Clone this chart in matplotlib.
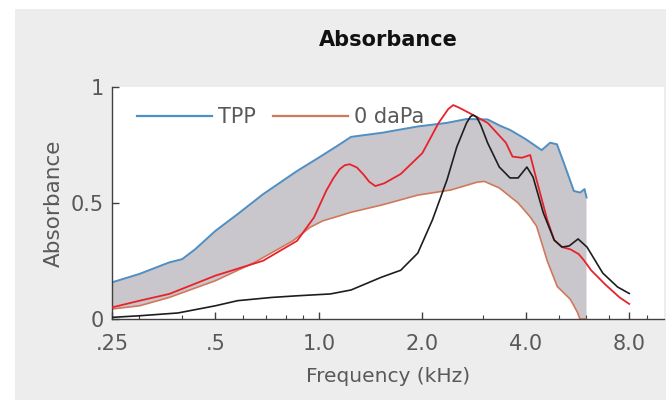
import matplotlib
matplotlib.use("Agg")
import matplotlib.pyplot as plt
from matplotlib.patches import Rectangle
from matplotlib.lines import Line2D
from matplotlib.ticker import FixedLocator, LogLocator, NullLocator
import numpy as np

# Absorbance at tympanometric peak pressure (upper edge of the shaded band)
freq_tpp = [0.25, 0.30, 0.367, 0.40, 0.436, 0.50, 0.58, 0.688, 0.864, 1.0, 1.15,
            1.24, 1.53, 1.94, 2.35, 2.69, 3.1, 3.38, 3.6, 4.0, 4.45, 4.71, 4.93,
            5.22, 5.52, 5.76, 5.93, 6.01]
abs_tpp = [0.158, 0.194, 0.244, 0.258, 0.30, 0.38, 0.452, 0.538, 0.638, 0.696,
           0.753, 0.785, 0.803, 0.83, 0.845, 0.862, 0.86, 0.832, 0.815, 0.775,
           0.728, 0.76, 0.753, 0.653, 0.552, 0.545, 0.56, 0.524]

# Absorbance at 0 daPa (lower edge of the shaded band)
freq_0dapa = [0.25, 0.301, 0.367, 0.50, 0.65, 0.84, 0.942, 1.026, 1.15, 1.24,
              1.53, 1.94, 2.42, 2.89, 3.03, 3.35, 3.8, 4.12, 4.3, 4.62, 4.94,
              5.39, 5.65, 5.75, 6.01]
abs_0dapa = [0.043, 0.057, 0.093, 0.165, 0.244, 0.337, 0.395, 0.423, 0.445, 0.46,
             0.492, 0.534, 0.556, 0.59, 0.593, 0.565, 0.50, 0.44, 0.40, 0.25,
             0.14, 0.085, 0.03, 0.0, 0.0]

# Individual ear, red trace
freq_red = [0.25, 0.301, 0.367, 0.50, 0.688, 0.864, 0.968, 1.05, 1.10, 1.15, 1.19,
            1.23, 1.29, 1.35, 1.40, 1.46, 1.55, 1.73, 2.0, 2.23, 2.38, 2.46, 2.55,
            2.74, 3.1, 3.5, 3.66, 3.9, 4.12, 4.3, 4.62, 4.84, 5.1, 5.4, 5.7, 5.9,
            6.2, 6.8, 7.5, 8.0]
abs_red = [0.05, 0.079, 0.108, 0.187, 0.251, 0.337, 0.438, 0.552, 0.605, 0.646,
           0.663, 0.667, 0.653, 0.622, 0.592, 0.573, 0.585, 0.625, 0.715, 0.845,
           0.905, 0.922, 0.912, 0.888, 0.845, 0.76, 0.70, 0.695, 0.707, 0.6,
           0.427, 0.34, 0.31, 0.30, 0.28, 0.254, 0.21, 0.15, 0.093, 0.065]

# Individual ear, black trace
freq_black = [0.25, 0.301, 0.389, 0.50, 0.58, 0.73, 0.864, 1.08, 1.24, 1.52, 1.73,
              1.94, 2.14, 2.36, 2.52, 2.69, 2.76, 2.81, 2.88, 2.96, 3.1, 3.35, 3.6,
              3.8, 4.03, 4.2, 4.5, 4.84, 5.1, 5.35, 5.68, 6.03, 6.7, 7.4, 8.0]
abs_black = [0.007, 0.014, 0.026, 0.057, 0.079, 0.093, 0.10, 0.108, 0.125, 0.18,
             0.21, 0.284, 0.427, 0.6, 0.742, 0.845, 0.872, 0.879, 0.870, 0.835,
             0.758, 0.655, 0.608, 0.608, 0.655, 0.612, 0.457, 0.34, 0.31, 0.315,
             0.345, 0.31, 0.198, 0.138, 0.11]

x_ticks = [0.25, 0.5, 1.0, 2.0, 4.0, 8.0]
x_tick_labels = [".25", ".5", "1.0", "2.0", "4.0", "8.0"]
y_ticks = [0, 0.5, 1]
y_tick_labels = ["0", "0.5", "1"]
legend_labels = ["TPP", "0 daPa"]

c_blue = "#4f8fc4"
c_orange = "#d0795a"
c_red = "#e8222d"
c_black = "#1e1e1e"
c_band = "#c9c7cb"
c_axis = "#404040"
c_text = "#595959"

plt.rcParams["font.family"] = ["DejaVu Sans"]

W, H = 666, 400
fig = plt.figure(figsize=(W / 100, H / 100), dpi=100, facecolor="white")
fig.patches.append(Rectangle((15 / W, 0), 1, 1 - 9 / H, transform=fig.transFigure,
                             facecolor="#ededed", edgecolor="none", zorder=-10))

ax = fig.add_axes([112 / W, 1 - 319 / H, 552 / W, 232 / H])
ax.set_facecolor("white")

# shaded band between the two pressure conditions
band_x = np.concatenate([freq_tpp, freq_0dapa[::-1]])
band_y = np.concatenate([abs_tpp, abs_0dapa[::-1]])
ax.fill(band_x, band_y, color=c_band, lw=0, zorder=1)

ax.plot(freq_0dapa, abs_0dapa, color=c_orange, lw=1.2, zorder=2)
ax.plot(freq_tpp, abs_tpp, color=c_blue, lw=1.4, zorder=2)
ax.plot(freq_red, abs_red, color=c_red, lw=1.3, zorder=3)
ax.plot(freq_black, abs_black, color=c_black, lw=1.2, zorder=4)

ax.set_xscale("log")
ax.set_xlim(0.25, 10.1)
ax.set_ylim(0, 1)
ax.xaxis.set_major_locator(FixedLocator(x_ticks))
ax.set_xticklabels(x_tick_labels)
ax.xaxis.set_minor_locator(LogLocator(base=10, subs=np.arange(2, 10)))
ax.xaxis.set_minor_formatter(plt.NullFormatter())
ax.set_yticks(y_ticks)
ax.set_yticklabels(y_tick_labels)
ax.yaxis.set_minor_locator(NullLocator())

for s in ("top", "right"):
    ax.spines[s].set_visible(False)
for s in ("bottom", "left"):
    ax.spines[s].set_color(c_axis)
    ax.spines[s].set_linewidth(1.0)

ax.tick_params(axis="both", which="major", direction="in", length=5, width=1,
               color=c_axis, labelcolor=c_text, labelsize=15)
ax.tick_params(axis="x", which="major", pad=11)
ax.tick_params(axis="y", which="major", pad=6)
ax.tick_params(axis="x", which="minor", direction="in", length=3, width=0.8,
               color=c_axis)

ax.set_xlabel("Frequency (kHz)", fontsize=14.5, color=c_text, labelpad=9)
ax.set_ylabel("Absorbance", fontsize=15.5, color=c_text, labelpad=5)

fig.text(388 / W, 1 - 40 / H, "Absorbance", ha="center", va="center",
         fontsize=15, fontweight="bold", color="#111111")

handles = [Line2D([], [], color=c_blue, lw=1.6), Line2D([], [], color=c_orange, lw=1.6)]
ax.legend(handles, legend_labels, loc="center left", ncol=2, frameon=False,
          fontsize=15, handlelength=3.6, handletextpad=0.3, columnspacing=0.8,
          bbox_to_anchor=(25 / 552, (319 - 117) / 232), borderaxespad=0,
          borderpad=0, labelcolor=c_text)

fig.savefig("out.png", dpi=100, facecolor=fig.get_facecolor())
